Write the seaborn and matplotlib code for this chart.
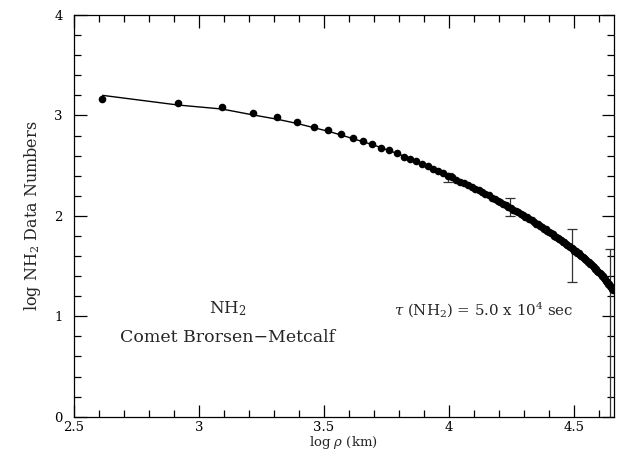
import numpy as np
import pandas as pd
import matplotlib
matplotlib.use("Agg")
import matplotlib.pyplot as plt
from matplotlib.ticker import MultipleLocator
import seaborn as sns

# log rho (km) of each annulus and the measured log NH2 data numbers
log_rho = [
    2.615, 2.916, 3.092, 3.217, 3.314, 3.393, 3.460, 3.518, 3.569, 3.615,
    3.656, 3.694, 3.729, 3.761, 3.791, 3.819, 3.845, 3.870, 3.894, 3.916,
    3.937, 3.957, 3.977, 3.995, 4.013, 4.030, 4.046, 4.062, 4.077, 4.092,
    4.106, 4.120, 4.133, 4.146, 4.159, 4.171, 4.183, 4.195, 4.206, 4.217,
    4.228, 4.238, 4.248, 4.258, 4.268, 4.278, 4.287, 4.296, 4.305, 4.314,
    4.322, 4.331, 4.339, 4.347, 4.355, 4.363, 4.371, 4.378, 4.386, 4.393,
    4.400, 4.407, 4.414, 4.421, 4.428, 4.434, 4.441, 4.447, 4.454, 4.460,
    4.466, 4.472, 4.478, 4.484, 4.490, 4.496, 4.501, 4.507, 4.513, 4.518,
    4.523, 4.529, 4.534, 4.539, 4.544, 4.549, 4.554, 4.559, 4.564, 4.569,
    4.574, 4.579, 4.583, 4.588, 4.593, 4.597, 4.602, 4.606, 4.611, 4.615,
    4.619, 4.623, 4.628, 4.632, 4.636, 4.640, 4.644, 4.648, 4.652, 4.656,
]
log_nh2 = [
    3.166, 3.127, 3.087, 3.022, 2.980, 2.930, 2.885, 2.852, 2.812, 2.774,
    2.742, 2.716, 2.678, 2.656, 2.627, 2.588, 2.568, 2.546, 2.512, 2.492,
    2.466, 2.443, 2.425, 2.398, 2.385, 2.362, 2.340, 2.330, 2.305, 2.292,
    2.268, 2.256, 2.238, 2.215, 2.203, 2.180, 2.170, 2.147, 2.138, 2.118,
    2.108, 2.090, 2.078, 2.060, 2.050, 2.035, 2.022, 2.010, 1.992, 1.985,
    1.965, 1.958, 1.940, 1.922, 1.918, 1.898, 1.890, 1.874, 1.866, 1.848,
    1.840, 1.826, 1.818, 1.800, 1.790, 1.782, 1.765, 1.758, 1.744, 1.736,
    1.722, 1.712, 1.700, 1.693, 1.680, 1.672, 1.655, 1.648, 1.632, 1.626,
    1.612, 1.604, 1.590, 1.583, 1.566, 1.560, 1.545, 1.540, 1.522, 1.516,
    1.500, 1.494, 1.476, 1.470, 1.452, 1.446, 1.428, 1.422, 1.402, 1.398,
    1.378, 1.372, 1.352, 1.346, 1.326, 1.318, 1.300, 1.292, 1.272, 1.262,
]

# model curve (Haser fit)
model_rho = [2.615, 2.916, 3.092, 3.217, 3.314, 3.393, 3.460, 3.518, 3.569, 3.615,
             3.700, 3.800, 3.900, 4.000, 4.100, 4.200, 4.300, 4.400, 4.500, 4.600, 4.656]
model_nh2 = [3.200, 3.104, 3.064, 3.005, 2.962, 2.920, 2.878, 2.842, 2.805, 2.770,
             2.705, 2.615, 2.508, 2.395, 2.278, 2.140, 1.990, 1.830, 1.650, 1.425, 1.260]

# representative error bars
err_rho = [3.998, 4.245, 4.492, 4.642]
err_mid = [2.385, 2.086, 1.605, 1.270]
err_lo = [0.045, 0.088, 0.262, 1.800]
err_hi = [0.045, 0.088, 0.262, 0.397]

sns.set_style("ticks")
plt.rcParams['font.family'] = ['DejaVu Serif']
plt.rcParams['mathtext.fontset'] = 'dejavuserif'

fig = plt.figure(figsize=(6.18, 4.53), dpi=100)
ax = fig.add_axes([0.1193, 0.080, 0.8743, 0.8869])

df = pd.DataFrame({'rho': log_rho, 'nh2': log_nh2})
mdl = pd.DataFrame({'rho': model_rho, 'nh2': model_nh2})

sns.lineplot(data=mdl, x='rho', y='nh2', ax=ax, color='black', lw=1.0, sort=False)
sns.scatterplot(data=df, x='rho', y='nh2', ax=ax, color='black', s=30,
                edgecolor='black', linewidth=0, zorder=3)
ax.errorbar(err_rho, err_mid, yerr=[err_lo, err_hi], fmt='none', ecolor='#333333',
            elinewidth=0.9, capsize=3.5, capthick=0.9)

ax.set_xlim(2.5, 4.66)
ax.set_ylim(0, 4)
ax.xaxis.set_major_locator(MultipleLocator(0.5))
ax.xaxis.set_minor_locator(MultipleLocator(0.1))
ax.yaxis.set_major_locator(MultipleLocator(1))
ax.yaxis.set_minor_locator(MultipleLocator(0.2))
ax.set_xticks([2.5, 3, 3.5, 4, 4.5])
ax.set_xticklabels(['2.5', '3', '3.5', '4', '4.5'])
ax.set_yticks([0, 1, 2, 3, 4])
ax.set_yticklabels(['0', '1', '2', '3', '4'])
ax.tick_params(which='both', direction='in', top=True, right=True,
               labelsize=9.5, colors='black', width=0.9)
ax.tick_params(which='major', length=9, pad=3)
ax.tick_params(axis='y', which='major', pad=8)
ax.tick_params(which='minor', length=5)
for sp in ax.spines.values():
    sp.set_linewidth(0.9)
    sp.set_color('black')

ax.set_xlabel(r'log $\rho$ (km)', fontsize=9.5, labelpad=0)
ax.set_ylabel(r'log NH$_2$ Data Numbers', fontsize=11.5, labelpad=8)

ax.text(3.114, 1.08, r'NH$_2$', fontsize=12, ha='center', va='center')
ax.text(3.114, 0.79, 'Comet Brorsen\u2212Metcalf', fontsize=12.5, ha='center', va='center')
ax.text(3.78, 1.06, r'$\tau$ (NH$_2$) = 5.0 x 10$^4$ sec', fontsize=10.8,
        ha='left', va='center')

fig.savefig('out.png', dpi=100)
